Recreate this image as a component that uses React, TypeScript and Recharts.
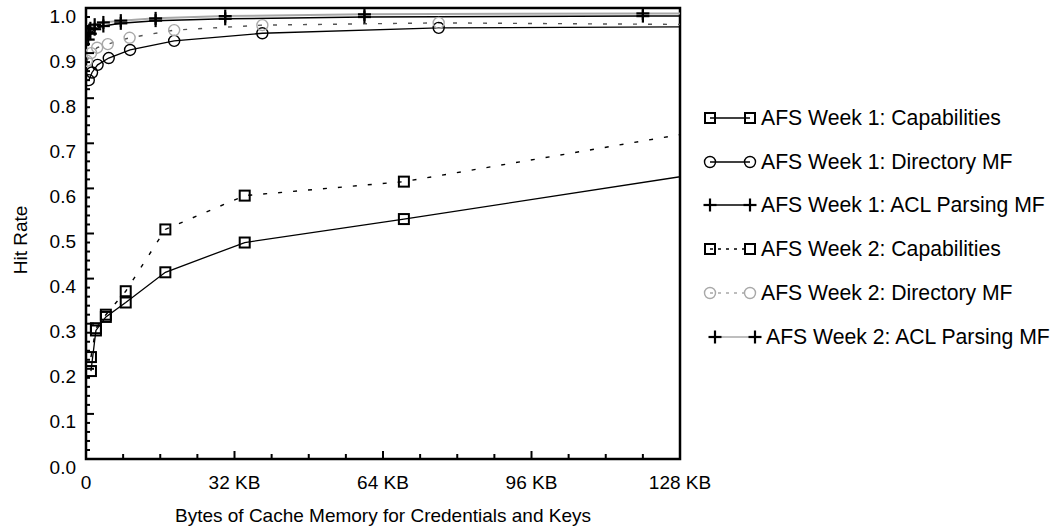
import React from "react";
import { LineChart, Line, XAxis, YAxis, ReferenceArea } from "recharts";

// cache size in KB (x) and hit rate (y)
const capKB = [1.07, 2.14, 4.28, 8.56, 17.1, 34.2, 68.5, 137];
const capWeek1 = [0.195, 0.285, 0.315, 0.347, 0.414, 0.48, 0.532, 0.64];
const capWeek2 = [0.226, 0.29, 0.32, 0.372, 0.509, 0.584, 0.615, 0.735];

const dirKBWeek1 = [0.6, 1.3, 2.5, 4.9, 9.5, 19, 38, 76, 152];
const dirWeek1 = [0.84, 0.857, 0.874, 0.889, 0.907, 0.927, 0.944, 0.956, 0.959];
const dirKBWeek2 = [0.2, 1.1, 2.4, 4.7, 9.4, 19, 38, 76, 152];
const dirWeek2 = [0.883, 0.9, 0.912, 0.92, 0.934, 0.951, 0.962, 0.967, 0.962];

const aclKB = [0.47, 0.94, 1.87, 3.74, 7.5, 15, 30, 60, 120, 240];
const aclWeek1 = [0.93, 0.943, 0.953, 0.96, 0.966, 0.972, 0.976, 0.98, 0.982, 0.983];
const aclWeek2 = [0.945, 0.955, 0.963, 0.968, 0.972, 0.977, 0.982, 0.986, 0.988, 0.989];

const xMajorTicks = [0, 32, 64, 96, 128];
const xTickLabels = ["0", "32 KB", "64 KB", "96 KB", "128 KB"];
const yMajorTicks = [0, 0.1, 0.2, 0.3, 0.4, 0.5, 0.6, 0.7, 0.8, 0.9, 1.0];
const yTickLabels = ["0.0", "0.1", "0.2", "0.3", "0.4", "0.5", "0.6", "0.7", "0.8", "0.9", "1.0"];

const seriesNames = [
  "AFS Week 1: Capabilities",
  "AFS Week 1: Directory MF",
  "AFS Week 1: ACL Parsing MF",
  "AFS Week 2: Capabilities",
  "AFS Week 2: Directory MF",
  "AFS Week 2: ACL Parsing MF",
];

const W = 1055;
const H = 531;
const PLOT_LEFT = 86;
const PLOT_TOP = 8;
const PLOT_RIGHT = 680;
const PLOT_BOTTOM = 459;
const FONT = '"Liberation Sans", Arial, Helvetica, sans-serif';
const GRAY = "#a8a8a8";

const toRows = (xs: number[], ys: number[]) => xs.map((x, i) => ({ x, y: ys[i] }));

// minor ticks: every 8 KB and every 0.02
const xTicks: number[] = [];
for (let v = 0; v <= 128; v += 8) xTicks.push(v);
const yTicks: number[] = [];
for (let i = 0; i <= 50; i++) yTicks.push(Math.round(i * 2) / 100);

const majorIndex = (arr: number[], v: number) => arr.findIndex((t) => Math.abs(t - v) < 1e-6);

function XTick(props: any) {
  const { x, payload } = props;
  const i = majorIndex(xMajorTicks, payload.value);
  const len = i >= 0 ? 8 : 5;
  return (
    <g>
      <line x1={x} x2={x} y1={PLOT_BOTTOM} y2={PLOT_BOTTOM - len} stroke="#000" strokeWidth={2} />
      {i >= 0 && (
        <text x={x} y={PLOT_BOTTOM + 23} textAnchor="middle" dominantBaseline="central" fontSize={19} fill="#000">
          {xTickLabels[i]}
        </text>
      )}
    </g>
  );
}

function YTick(props: any) {
  const { y, payload } = props;
  const i = majorIndex(yMajorTicks, payload.value);
  const len = i >= 0 ? 8 : 4;
  return (
    <g>
      <line x1={PLOT_LEFT} x2={PLOT_LEFT + len} y1={y} y2={y} stroke="#000" strokeWidth={2} />
      {i >= 0 && (
        <text x={76} y={y + 8} textAnchor="end" dominantBaseline="central" fontSize={19} fill="#000">
          {yTickLabels[i]}
        </text>
      )}
    </g>
  );
}

function Square({ cx, cy, color = "#000" }: any) {
  return <rect x={cx - 5} y={cy - 5} width={10} height={10} fill="none" stroke={color} strokeWidth={2} />;
}
function Ring({ cx, cy, color = "#000" }: any) {
  return <circle cx={cx} cy={cy} r={5.5} fill="none" stroke={color} strokeWidth={1.4} />;
}
function Cross({ cx, cy, color = "#000" }: any) {
  return (
    <g>
      <line x1={cx - 6.5} x2={cx + 6.5} y1={cy} y2={cy} stroke={color} strokeWidth={2.2} />
      <line x1={cx} x2={cx} y1={cy - 6.5} y2={cy + 6.5} stroke={color} strokeWidth={2.2} />
    </g>
  );
}

const squareDot = (p: any) => <Square key={p.index} cx={p.cx} cy={p.cy} />;
const ringDot = (p: any) => <Ring key={p.index} cx={p.cx} cy={p.cy} />;
const grayRingDot = (p: any) => <Ring key={p.index} cx={p.cx} cy={p.cy} color={GRAY} />;
const crossDot = (p: any) => <Cross key={p.index} cx={p.cx} cy={p.cy} />;

const legendStyles = [
  { marker: Square, markerColor: "#000", line: "#000", dash: undefined, shift: 0 },
  { marker: Ring, markerColor: "#000", line: "#000", dash: undefined, shift: 0 },
  { marker: Cross, markerColor: "#000", line: "#000", dash: undefined, shift: 0 },
  { marker: Square, markerColor: "#000", line: "#000", dash: "3 5", shift: 0 },
  { marker: Ring, markerColor: GRAY, line: GRAY, dash: "3 5", shift: 0 },
  { marker: Cross, markerColor: "#000", line: GRAY, dash: undefined, shift: 5 },
];

function LegendBox() {
  return (
    <div
      style={{
        position: "absolute",
        left: 700,
        top: 96,
        fontFamily: FONT,
        fontSize: 21.2,
        color: "#000",
      }}
    >
      {seriesNames.map((name, i) => {
        const s = legendStyles[i];
        const M = s.marker;
        return (
          <div key={name} style={{ display: "flex", alignItems: "center", height: 43.8, whiteSpace: "nowrap" }}>
            <svg width={61 + s.shift} height={20} style={{ flex: "none" }}>
              <line x1={10 + s.shift} x2={50 + s.shift} y1={10} y2={10} stroke={s.line} strokeWidth={1.5} strokeDasharray={s.dash} />
              <M cx={10 + s.shift} cy={10} color={s.markerColor} />
              <M cx={50 + s.shift} cy={10} color={s.markerColor} />
            </svg>
            <span>{name}</span>
          </div>
        );
      })}
    </div>
  );
}

const XTitle = () => (
  <text x={(PLOT_LEFT + PLOT_RIGHT) / 2} y={515} textAnchor="middle" dominantBaseline="central" fontSize={19} fill="#000">
    Bytes of Cache Memory for Credentials and Keys
  </text>
);
const YTitle = () => (
  <text
    x={20}
    y={240}
    transform="rotate(-90 20 240)"
    textAnchor="middle"
    dominantBaseline="central"
    fontSize={19}
    fill="#000"
  >
    Hit Rate
  </text>
);

export default function App() {
  return (
    <div style={{ position: "absolute", left: 0, top: 0, width: W, height: H, background: "#fff", fontFamily: FONT }}>
      <LineChart
        width={W}
        height={H}
        margin={{ top: PLOT_TOP, right: W - PLOT_RIGHT, bottom: 0, left: 0 }}
      >
        <XAxis
          type="number"
          dataKey="x"
          domain={[0, 128]}
          allowDataOverflow
          ticks={xTicks}
          interval={0}
          tick={<XTick />}
          tickLine={false}
          axisLine={false}
          height={H - PLOT_BOTTOM}
          label={<XTitle />}
        />
        <YAxis
          type="number"
          dataKey="y"
          domain={[0, 1]}
          allowDataOverflow
          ticks={yTicks}
          interval={0}
          tick={<YTick />}
          tickLine={false}
          axisLine={false}
          width={PLOT_LEFT}
          label={<YTitle />}
        />
        <ReferenceArea x1={0} x2={128} y1={0} y2={1} fill="none" stroke="#000" strokeWidth={2.5} />
        <Line
          data={toRows(capKB, capWeek1)}
          dataKey="y"
          name={seriesNames[0]}
          stroke="#000"
          strokeWidth={1.3}
          dot={squareDot}
          isAnimationActive={false}
        />
        <Line
          data={toRows(dirKBWeek1, dirWeek1)}
          dataKey="y"
          name={seriesNames[1]}
          stroke="#000"
          strokeWidth={1.3}
          dot={ringDot}
          isAnimationActive={false}
        />
        <Line
          data={toRows(aclKB, aclWeek1)}
          dataKey="y"
          name={seriesNames[2]}
          stroke="#000"
          strokeWidth={1.5}
          dot={crossDot}
          isAnimationActive={false}
        />
        <Line
          data={toRows(capKB, capWeek2)}
          dataKey="y"
          name={seriesNames[3]}
          stroke="#000"
          strokeWidth={1.4}
          strokeDasharray="4 11"
          dot={squareDot}
          isAnimationActive={false}
        />
        <Line
          data={toRows(dirKBWeek2, dirWeek2)}
          dataKey="y"
          name={seriesNames[4]}
          stroke="#555"
          strokeWidth={1.4}
          strokeDasharray="4 11"
          dot={grayRingDot}
          isAnimationActive={false}
        />
        <Line
          data={toRows(aclKB, aclWeek2)}
          dataKey="y"
          name={seriesNames[5]}
          stroke={GRAY}
          strokeWidth={2}
          dot={crossDot}
          isAnimationActive={false}
        />
      </LineChart>
      <LegendBox />
    </div>
  );
}
